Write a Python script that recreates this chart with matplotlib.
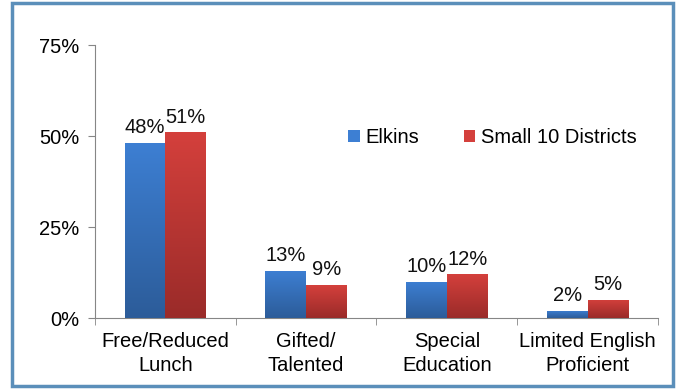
import matplotlib
matplotlib.use("Agg")
import matplotlib.pyplot as plt
import numpy as np
from matplotlib.patches import Rectangle
from matplotlib.colors import LinearSegmentedColormap
from matplotlib.ticker import FixedLocator

categories = ["Free/Reduced\nLunch", "Gifted/\nTalented", "Special\nEducation", "Limited English\nProficient"]
elkins = [48, 13, 10, 2]
small10 = [51, 9, 12, 5]
series_names = ["Elkins", "Small 10 Districts"]
yticks = [0, 25, 50, 75]
ytick_labels = ["0%", "25%", "50%", "75%"]

plt.rcParams['font.family'] = ['Liberation Sans', 'DejaVu Sans']
FS = 14.5

fig = plt.figure(figsize=(6.8, 3.89), dpi=100)
ax = fig.add_axes([0.1397, 0.1825, 0.9676 - 0.1397, 0.8843 - 0.1825])

x = np.arange(len(categories))
w = 0.29
blue_top, blue_bot = "#3d7fd3", "#2c5c99"
red_top, red_bot = "#d4403c", "#9a2b29"

b1 = ax.bar(x - w / 2, elkins, w, color=blue_top, label=series_names[0], zorder=2)
b2 = ax.bar(x + w / 2, small10, w, color=red_top, label=series_names[1], zorder=2)

# gradient fills
grad = np.linspace(0, 1, 256).reshape(-1, 1)
for bars, top, bot in [(b1, blue_top, blue_bot), (b2, red_top, red_bot)]:
    cmap = LinearSegmentedColormap.from_list("g", [bot, top])
    for p in bars:
        x0, y0 = p.get_x(), p.get_y()
        x1, y1 = x0 + p.get_width(), y0 + p.get_height()
        im = ax.imshow(grad, cmap=cmap, aspect="auto", origin="lower",
                       extent=[x0, x1, y0, y1], zorder=3)
        im.set_clip_path(p)

ax.set_xlim(-0.5, len(categories) - 0.5)
ax.set_ylim(0, 75)

for bars, vals in [(b1, elkins), (b2, small10)]:
    for p, v in zip(bars, vals):
        ax.text(p.get_x() + p.get_width() / 2, p.get_height() + 1.6, f"{v}%",
                ha="center", va="bottom", fontsize=FS, color="#111111", zorder=4)

ax.set_yticks(yticks)
ax.set_yticklabels(ytick_labels, fontsize=FS)
ax.set_xticks(x)
ax.set_xticklabels(categories, fontsize=FS, linespacing=1.35)
ax.xaxis.set_minor_locator(FixedLocator(np.arange(-0.5, len(categories), 1.0)))
ax.tick_params(axis="x", which="major", length=0, pad=10)
ax.tick_params(axis="x", which="minor", length=5, color="#868686")
ax.tick_params(axis="y", length=5, color="#868686", pad=6)

for s in ["top", "right"]:
    ax.spines[s].set_visible(False)
ax.spines["left"].set_color("#868686")
ax.spines["bottom"].set_color("#868686")

ax.legend(loc="center left", bbox_to_anchor=(0.418, 0.662), ncol=2, frameon=False,
          fontsize=FS, handlelength=0.55, handleheight=0.55, handletextpad=0.3,
          columnspacing=2.2)

fig.patches.append(Rectangle((0.0175, 0.008), 0.9725, 0.984, transform=fig.transFigure,
                             fill=False, edgecolor="#5b8fba", linewidth=2.5))

fig.savefig("out.png", dpi=100)
